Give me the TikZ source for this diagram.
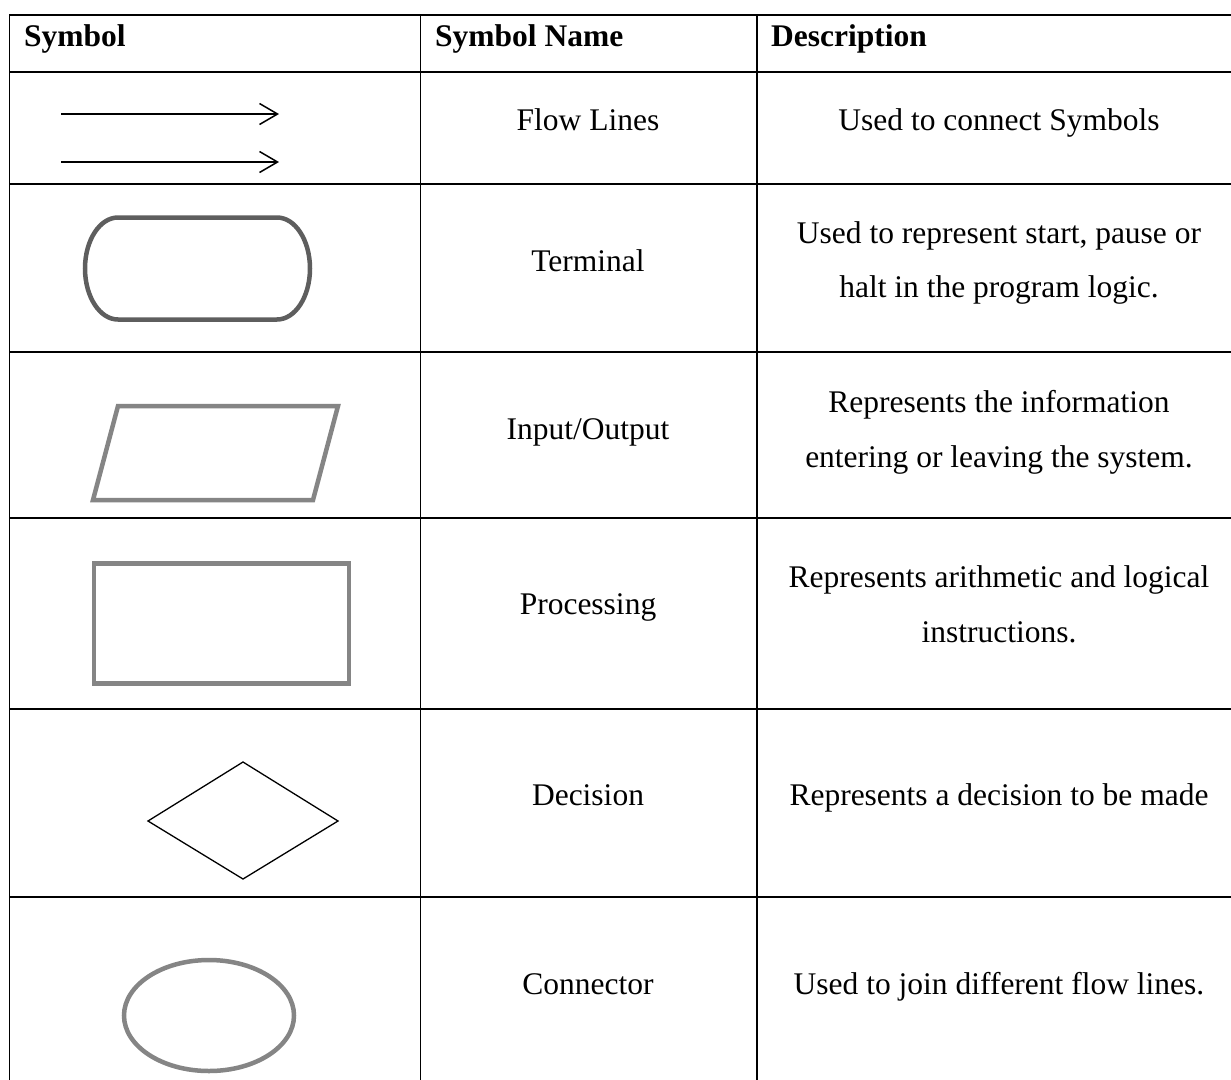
\documentclass[tikz,border=0pt]{standalone}
\usepackage{fontspec}
\setmainfont{Liberation Serif}
\usetikzlibrary{arrows.meta}

\begin{document}
\begin{tikzpicture}[x=1pt,y=-1pt,
    rule/.style={line width=1.6pt},
    txt/.style={anchor=base,inner sep=0pt,font=\fontsize{31.5}{38}\selectfont},
    hdr/.style={txt,anchor=base west,font=\fontsize{31.5}{38}\selectfont\bfseries},
    flowline/.style={line width=1.5pt,-{Straight Barb[length=18pt,width=21pt]}},
    darksym/.style={draw=black!63,line width=4.5pt},
    greysym/.style={draw=black!48,line width=4.5pt}]
          \fill[white] (0,0) rectangle (1231,1079);
          \useasboundingbox (0,0) rectangle (1231,1079);
          \clip (0,0) rectangle (1231,1079);
          % table rules
          \draw[rule] (9.5,1090) -- (9.5,15) -- (1245,15);
          \foreach \y in {72,184,352,518,709,897} \draw[rule] (9.5,\y) -- (1245,\y);
          \foreach \x in {420.5,757} \draw[rule] (\x,15) -- (\x,1090);
          % header
          \node[hdr] (hsym) at (24,46) {Symbol};
          \node[hdr] (hname) at (435,46) {Symbol Name};
          \node[hdr] (hdesc) at (771,46) {Description};
          % names
          \node[txt] (nflow) at (588,130) {Flow Lines};
          \node[txt] (nterm) at (588,271) {Terminal};
          \node[txt] (nio) at (588,439) {Input/Output};
          \node[txt] (nproc) at (588,614) {Processing};
          \node[txt] (ndec) at (588,805) {Decision};
          \node[txt] (ncon) at (588,994) {Connector};
          % descriptions
          \node[txt] (dflow) at (999,130) {Used to connect Symbols};
          \node[txt] (dterm) at (999,243) {Used to represent start, pause or};
          \node[txt] (dtermb) at (999,297) {halt in the program logic.};
          \node[txt] (dio) at (999,412) {Represents the information};
          \node[txt] (diob) at (999,467) {entering or leaving the system.};
          \node[txt] (dproc) at (999,587) {Represents arithmetic and logical};
          \node[txt] (dprocb) at (999,642) {instructions.};
          \node[txt] (ddec) at (999,805) {Represents a decision to be made};
          \node[txt] (dcon) at (999,994) {Used to join different flow lines.};
          % symbols
          \coordinate (A) at (61,114);
          \coordinate (B) at (279,114);
          \coordinate (C) at (61,162);
          \coordinate (D) at (279,162);
          \draw[flowline] (A) -- (B);
          \draw[flowline] (C) -- (D);
          \draw[darksym] (118,217.5) -- (277,217.5)
            arc[start angle=-90,end angle=90,x radius=33,y radius=51] -- (118,319.5)
            arc[start angle=90,end angle=270,x radius=33,y radius=51] -- cycle;
          \draw[greysym] (118,406) -- (338,406) -- (313,500) -- (93,500) -- cycle;
          \draw[greysym] (94,563.5) rectangle (349,683.5);
          \draw[line width=1.3pt] (148,821) -- (243,762) -- (338,821) -- (243,879) -- cycle;
          \draw[greysym] (209,1015.5) ellipse [x radius=85,y radius=55.5];
        \end{tikzpicture}
\end{document}
